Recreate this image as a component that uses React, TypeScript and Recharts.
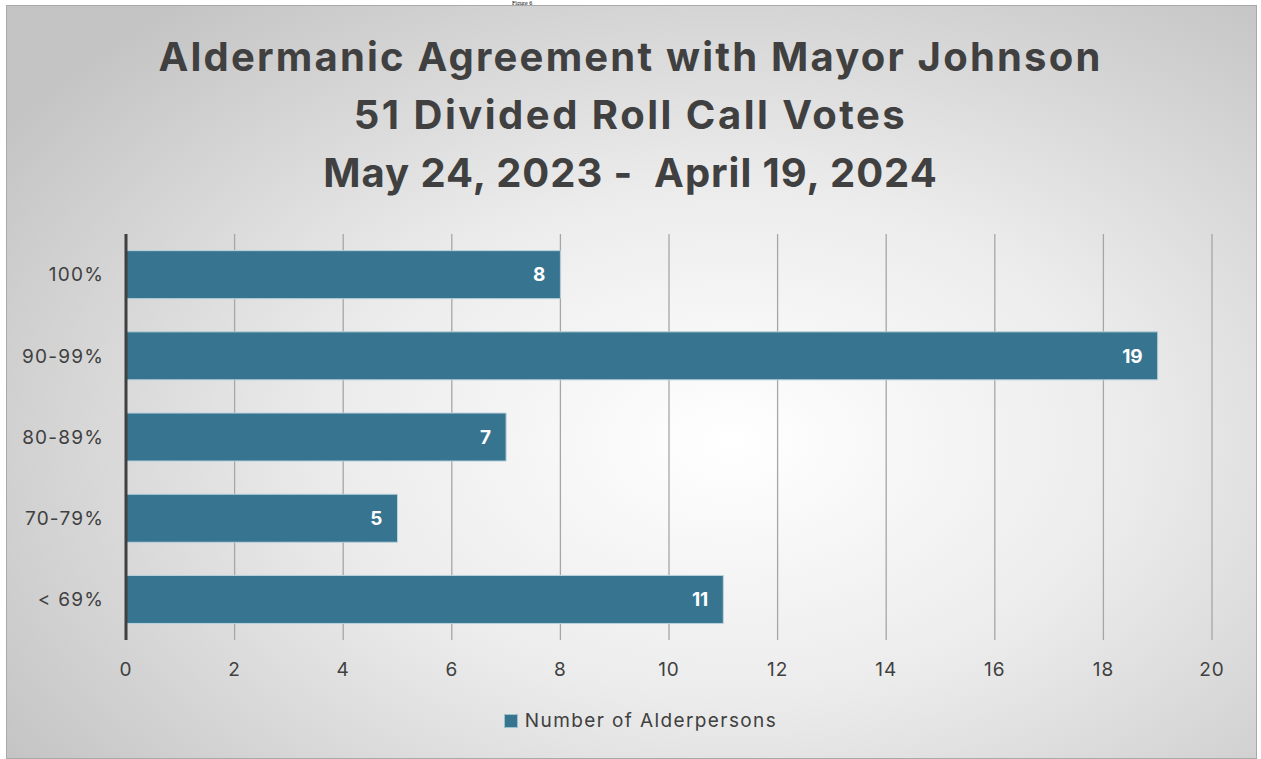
import React from 'react'
import { BarChart, Bar, XAxis, YAxis, CartesianGrid, LabelList } from 'recharts'

const categories = ['100%', '90-99%', '80-89%', '70-79%', '< 69%']
const alderpersons = [8, 19, 7, 5, 11]
const xTicks = [0, 2, 4, 6, 8, 10, 12, 14, 16, 18, 20]
const titleLines = [
  'Aldermanic Agreement with Mayor Johnson',
  '51 Divided Roll Call Votes',
  'May 24, 2023 -  April 19, 2024',
]
const titleSpacing = [2.2, 2.5, 0.95]
const seriesName = 'Number of Alderpersons'

const data = categories.map((c, i) => ({ category: c, value: alderpersons[i] }))

const BAR = '#36748f'
const TEXT = '#404040'
const FONT = 'Inter, "Open Sans", sans-serif'

export default function App() {
  return (
    <div
      style={{
        position: 'absolute',
        left: 0,
        top: 0,
        width: 1261,
        height: 759,
        background: '#fff',
        overflow: 'hidden',
        fontFamily: FONT,
      }}
    >
      <div
        style={{
          position: 'absolute',
          left: 512,
          top: 0,
          fontFamily: 'serif',
          fontSize: 6,
          lineHeight: '6px',
          color: '#000',
        }}
      >
        Figure 6
      </div>
      <div
        style={{
          position: 'absolute',
          left: 6,
          top: 5,
          width: 1249,
          height: 752,
          border: '1px solid #a9a9a9',
          background:
            'radial-gradient(ellipse 70% 75% at 58% 58%, #ffffff 0%, #ececec 45%, #c4c4c4 100%)',
        }}
      />
      <div
        style={{
          position: 'absolute',
          left: 0,
          top: 28,
          width: 1261,
          textAlign: 'center',
          color: TEXT,
          fontWeight: 700,
          fontSize: 40,
          lineHeight: '58px',
          whiteSpace: 'pre',
        }}
      >
        {titleLines.map((t, i) => (
          <div key={t} style={{ letterSpacing: titleSpacing[i] }}>
            {t}
          </div>
        ))}
      </div>
      <div style={{ position: 'absolute', left: 0, top: 0 }}>
        <BarChart
          width={1261}
          height={759}
          data={data}
          layout="vertical"
          margin={{ top: 234, right: 49, bottom: 79, left: 0 }}
          barCategoryGap="20.5%"
        >
          <CartesianGrid horizontal={false} stroke="#a6a6a6" strokeWidth={1.3} />
          <XAxis
            type="number"
            domain={[0, 20]}
            ticks={xTicks}
            axisLine={false}
            tickLine={false}
            tickSize={6}
            tickMargin={17}
            height={40}
            tick={{ fontSize: 19, fill: TEXT, fontFamily: FONT, letterSpacing: 1 }}
          />
          <YAxis
            type="category"
            dataKey="category"
            width={126}
            axisLine={{ stroke: TEXT, strokeWidth: 3 }}
            tickLine={false}
            tickSize={6}
            tickMargin={16}
            tick={{ fontSize: 19, fill: TEXT, fontFamily: FONT, letterSpacing: 1.2 }}
          />
          <Bar
            dataKey="value"
            name={seriesName}
            fill={BAR}
            stroke="#b9d2dc"
            strokeWidth={1}
            isAnimationActive={false}
          >
            <LabelList
              dataKey="value"
              position="insideRight"
              offset={15}
              fill="#ffffff"
              style={{ fontSize: 19, fontWeight: 700, fontFamily: FONT }}
            />
          </Bar>
        </BarChart>
      </div>
      <div
        style={{
          position: 'absolute',
          left: 10,
          top: 709,
          width: 1261,
          display: 'flex',
          justifyContent: 'center',
          alignItems: 'center',
          color: TEXT,
          fontSize: 19,
          letterSpacing: 1.4,
        }}
      >
        <span
          style={{
            display: 'inline-block',
            width: 12,
            height: 12,
            background: BAR,
            border: '1px solid #9fc0cd',
            marginRight: 7,
          }}
        />
        <span>{seriesName}</span>
      </div>
    </div>
  )
}
